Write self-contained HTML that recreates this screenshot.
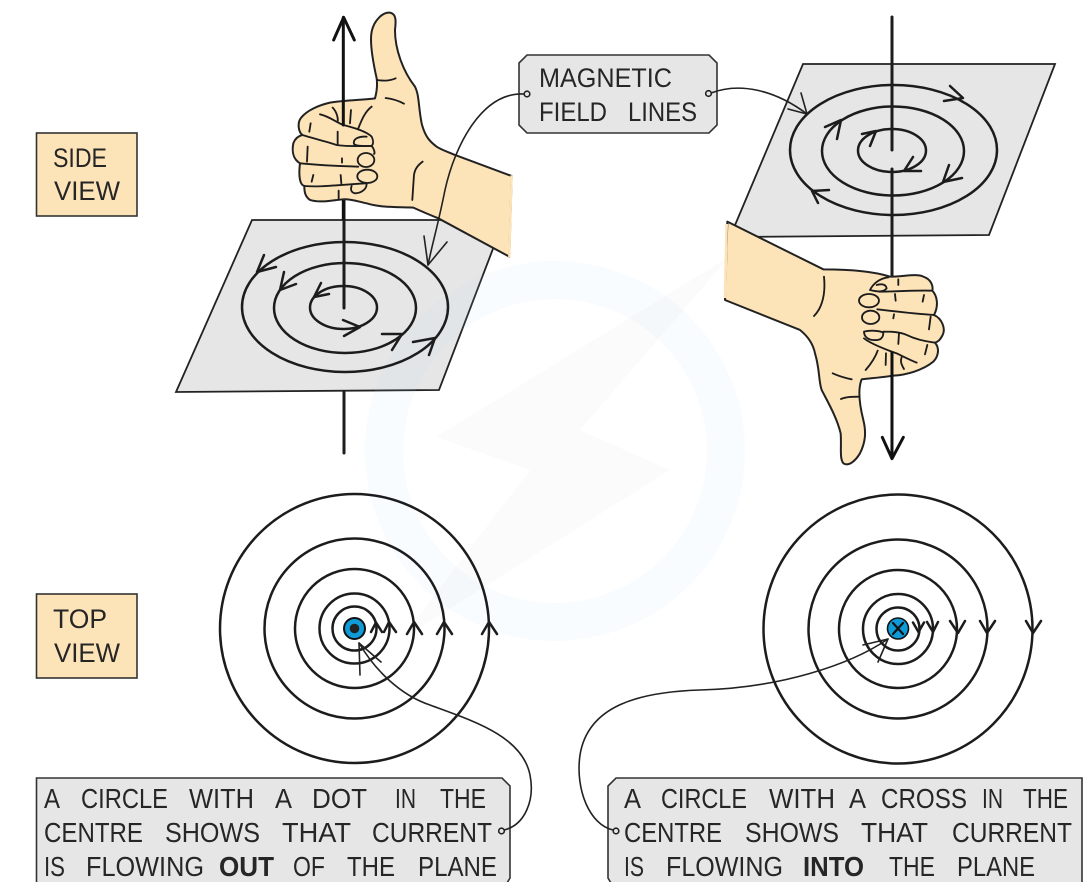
<!DOCTYPE html>
<html><head><meta charset="utf-8"><style>
html,body{margin:0;padding:0;background:#fff}
svg{display:block}
text{font-family:"Liberation Sans",sans-serif;font-size:28px;fill:#262626}
.s{font-size:27px}
.b{font-weight:bold}
.l{fill:none;stroke:#1c1c1c;stroke-width:2.5;stroke-linecap:round;stroke-linejoin:round}
.t{fill:none;stroke:#222;stroke-width:1.6;stroke-linecap:round;stroke-linejoin:round}
.h{fill:#fde3b8;stroke:#222;stroke-width:6;stroke-linejoin:round}
.f{fill:none;stroke:#1c1c1c;stroke-width:5.5;stroke-linecap:round;stroke-linejoin:round}
.box{stroke:#333;stroke-width:1.6}
</style></head><body>
<svg width="1090" height="882" viewBox="0 0 1090 882" xmlns="http://www.w3.org/2000/svg">
<!-- planes -->
<polygon points="252,220 504,220 439,390 176,392" fill="#e6e6e6" stroke="#222" stroke-width="1.8"/>
<polygon points="803,64 1055,64 989,235 730,237" fill="#e6e6e6" stroke="#222" stroke-width="1.8"/>
<!-- watermark -->
<circle cx="555" cy="451" r="171" fill="none" stroke="#b4e1f5" stroke-opacity=".09" stroke-width="38"/>
<polygon points="730,256 436,437 530,470 400,640 670,470 580,430" fill="#000" fill-opacity=".014"/>
<!-- left axis lower + field -->
<g class="l">
<line x1="344" y1="200" x2="344" y2="308" stroke-width="3"/>
<line x1="344" y1="392" x2="344" y2="453" stroke-width="3"/>
<ellipse cx="345" cy="307" rx="103" ry="65"/>
<ellipse cx="345" cy="308" rx="71" ry="45"/>
<ellipse cx="343.5" cy="307.5" rx="33.5" ry="21.5"/>
<polyline points="264,255 257,272 276,267"/>
<polyline points="413,342 435,338 429,355"/>
<polyline points="284,272 280,290 296,284"/>
<polyline points="382,334 402,334 392,350"/>
<polyline points="321,283 314,297 329,294"/>
<polyline points="343,320 360,327 344,336"/>
</g>
<!-- right field -->
<g class="l">
<ellipse cx="893.5" cy="150" rx="103.5" ry="65"/>
<ellipse cx="893" cy="151" rx="71" ry="44.5"/>
<ellipse cx="892" cy="150.5" rx="34" ry="21.5"/>
<polyline points="950,86 963,98 944,101"/>
<polyline points="825,127 841,120 837,139"/>
<polyline points="862,134 876,131 870,146"/>
<polyline points="913,157 904,171 921,171"/>
<polyline points="949,165 943,182 962,178"/>
<polyline points="829,190 812,191 818,203"/>
<line x1="892" y1="17" x2="892" y2="150" stroke-width="3"/>
<line x1="892" y1="169" x2="892" y2="277" stroke-width="3"/>
</g>
<!-- left hand -->
<g transform="translate(170,0) scale(.3333)">
<path class="h" d="M615,295 C622,270 622,250 620,235 C610,190 598,130 605,95 C612,60 640,35 660,38 C680,42 678,65 675,90 C675,150 700,215 735,260 C748,285 745,320 755,370 C765,410 780,425 800,440 C815,450 840,458 855,465 L1025,528 L1018,770 L805,655 C780,645 750,632 730,623 C690,620 640,625 590,610 C565,605 545,597 520,598 C490,600 450,610 420,600 C405,590 403,575 403,558 C390,555 385,530 390,490 C370,478 365,455 370,430 C375,415 385,408 397,405 C385,395 382,370 392,355 C410,330 450,315 480,308 C530,300 580,300 615,295 Z"/>
<path d="M1025,526 L1018,772" stroke="#fde3b8" stroke-width="7" fill="none"/>
<g class="f">
<path d="M397,405 C430,415 470,425 500,435 C530,440 570,438 605,438"/>
<path d="M450,343 C480,350 500,368 520,375 C560,385 590,395 605,410 C612,425 610,432 605,438 C590,438 560,440 552,432 C548,415 570,408 590,410"/>
<path d="M390,490 C440,495 500,498 565,500"/>
<path d="M403,558 C450,562 500,555 590,550"/>
<path d="M590,552 C590,570 570,580 555,580 C545,578 540,570 545,558"/>
<path d="M422,370 L418,395 M413,440 L411,485 M430,525 L425,545 M503,395 L503,435 M516,475 L516,488 M512,525 L514,550 M506,572 L506,598 M543,330 L540,370"/>
<path d="M488,323 C500,335 505,355 503,365 M605,320 C585,335 575,360 565,385"/>
<path d="M622,240 C640,243 660,243 677,235 M647,294 C665,296 685,302 702,311 M758,485 C745,495 735,505 732,525 L727,600"/>
<path d="M605,438 C612,445 616,460 612,462"/>
<ellipse cx="588" cy="480" rx="25" ry="21"/>
<ellipse cx="592" cy="529" rx="30" ry="20"/>
</g>
<!-- upper axis -->
<line x1="520" y1="52" x2="520" y2="375" stroke="#111" stroke-width="9" stroke-linecap="round"/>
<line x1="520" y1="600" x2="520" y2="660" stroke="#111" stroke-width="9"/>
<polyline points="491,120 521,52 553,120" fill="none" stroke="#111" stroke-width="9" stroke-linecap="round" stroke-linejoin="round"/>
</g>
<!-- right hand -->
<g transform="translate(720,220) scale(.3333)">
<path class="h" d="M22,5 L310,148 C360,148 450,150 510,170 C550,170 590,160 610,170 C635,178 640,200 637,212 C650,225 658,255 642,285 C665,295 678,325 668,345 C660,360 655,365 645,368 C660,385 655,410 640,425 C610,450 560,465 520,467 C490,472 450,475 425,478 C412,510 420,560 430,600 C440,640 435,670 420,700 C405,725 385,740 370,730 C358,715 365,680 362,640 C350,590 320,540 305,510 C295,480 300,450 285,400 C280,375 265,350 240,330 L15,240 Z"/>
<path d="M20,12 L15,234" stroke="#fde3b8" stroke-width="8" fill="none"/>
<g class="f">
<path d="M505,172 C480,175 460,190 450,210 C470,215 490,218 500,205 C498,195 490,190 470,195"/>
<path d="M478,215 C530,215 590,210 637,212"/>
<path d="M472,268 C530,275 590,282 642,285"/>
<path d="M490,335 C510,335 540,335 560,345 C590,360 620,365 645,368"/>
<path d="M432,335 C450,330 480,332 490,338 C490,355 480,362 460,360 C445,360 432,350 432,335"/>
<path d="M432,355 C450,370 500,390 530,400 C550,410 570,420 590,428"/>
<ellipse cx="447" cy="242" rx="30" ry="20"/>
<ellipse cx="452" cy="292" rx="26" ry="20"/>
<path d="M535,178 L535,195 M525,222 L527,242 M612,225 L608,245 M522,283 L520,295 M632,290 L627,328 M537,340 L535,372 M622,375 L615,403 M498,400 L497,435"/>
<path d="M473,392 C465,415 450,435 437,450 M545,412 C540,425 545,435 552,447"/>
<path d="M338,460 C360,470 380,475 395,478 M363,537 C380,530 400,530 418,530 M312,170 C315,200 312,230 305,250 C300,265 290,280 282,288"/>
</g>
<line x1="516" y1="395" x2="516" y2="715" stroke="#111" stroke-width="9"/>
<polyline points="487,652 516,716 550,652" fill="none" stroke="#111" stroke-width="9" stroke-linecap="round" stroke-linejoin="round"/>
</g>
<!-- label boxes -->
<rect class="box" x="36.5" y="133" width="100.5" height="83" fill="#fde3b8"/>
<rect class="box" x="36.5" y="594" width="100.5" height="84" fill="#fde3b8"/>
<polygon class="box" points="527,55 709,55 717,63 717,125 709,133 527,133 519,125 519,63" fill="#e6e6e6"/>
<polygon class="box" points="36.5,778 502,778 510,786 510,878 507,883 36.5,883" fill="#e6e6e6"/>
<polygon class="box" points="616,778 1082,778 1082,883 611,883 608,878 608,786" fill="#e6e6e6"/>
<text class="s" x="53" y="167" textLength="54" lengthAdjust="spacingAndGlyphs">SIDE</text>
<text class="s" x="54" y="200" textLength="66" lengthAdjust="spacingAndGlyphs">VIEW</text>
<text class="s" x="53" y="628" textLength="54" lengthAdjust="spacingAndGlyphs">TOP</text>
<text class="s" x="54" y="662" textLength="66" lengthAdjust="spacingAndGlyphs">VIEW</text>
<text class="s" x="539" y="87" textLength="133" lengthAdjust="spacingAndGlyphs">MAGNETIC</text>
<text class="s" x="539" y="121" textLength="68" lengthAdjust="spacingAndGlyphs">FIELD</text>
<text class="s" x="628" y="121" textLength="69" lengthAdjust="spacingAndGlyphs">LINES</text>
<!-- left caption -->
<text x="44" y="808" textLength="16" lengthAdjust="spacingAndGlyphs">A</text>
<text x="81" y="808" textLength="87" lengthAdjust="spacingAndGlyphs">CIRCLE</text>
<text x="189" y="808" textLength="65" lengthAdjust="spacingAndGlyphs">WITH</text>
<text x="275" y="808" textLength="17" lengthAdjust="spacingAndGlyphs">A</text>
<text x="312" y="808" textLength="55" lengthAdjust="spacingAndGlyphs">DOT</text>
<text x="395" y="808" textLength="21" lengthAdjust="spacingAndGlyphs">IN</text>
<text x="440" y="808" textLength="46" lengthAdjust="spacingAndGlyphs">THE</text>
<text x="44" y="842" textLength="99" lengthAdjust="spacingAndGlyphs">CENTRE</text>
<text x="165" y="842" textLength="95" lengthAdjust="spacingAndGlyphs">SHOWS</text>
<text x="282" y="842" textLength="69" lengthAdjust="spacingAndGlyphs">THAT</text>
<text x="372" y="842" textLength="120" lengthAdjust="spacingAndGlyphs">CURRENT</text>
<text x="44" y="876" textLength="21" lengthAdjust="spacingAndGlyphs">IS</text>
<text x="86" y="876" textLength="118" lengthAdjust="spacingAndGlyphs">FLOWING</text>
<text class="b" x="219" y="876" textLength="55" lengthAdjust="spacingAndGlyphs">OUT</text>
<text x="293" y="876" textLength="32" lengthAdjust="spacingAndGlyphs">OF</text>
<text x="347" y="876" textLength="48" lengthAdjust="spacingAndGlyphs">THE</text>
<text x="418" y="876" textLength="79" lengthAdjust="spacingAndGlyphs">PLANE</text>
<!-- right caption -->
<text x="624" y="808" textLength="17" lengthAdjust="spacingAndGlyphs">A</text>
<text x="661" y="808" textLength="86" lengthAdjust="spacingAndGlyphs">CIRCLE</text>
<text x="769" y="808" textLength="66" lengthAdjust="spacingAndGlyphs">WITH</text>
<text x="849" y="808" textLength="17" lengthAdjust="spacingAndGlyphs">A</text>
<text x="881" y="808" textLength="86" lengthAdjust="spacingAndGlyphs">CROSS</text>
<text x="982" y="808" textLength="21" lengthAdjust="spacingAndGlyphs">IN</text>
<text x="1023" y="808" textLength="45" lengthAdjust="spacingAndGlyphs">THE</text>
<text x="624" y="842" textLength="98" lengthAdjust="spacingAndGlyphs">CENTRE</text>
<text x="745" y="842" textLength="94" lengthAdjust="spacingAndGlyphs">SHOWS</text>
<text x="861" y="842" textLength="67" lengthAdjust="spacingAndGlyphs">THAT</text>
<text x="952" y="842" textLength="120" lengthAdjust="spacingAndGlyphs">CURRENT</text>
<text x="624" y="876" textLength="20" lengthAdjust="spacingAndGlyphs">IS</text>
<text x="666" y="876" textLength="117" lengthAdjust="spacingAndGlyphs">FLOWING</text>
<text class="b" x="803" y="876" textLength="61" lengthAdjust="spacingAndGlyphs">INTO</text>
<text x="889" y="876" textLength="46" lengthAdjust="spacingAndGlyphs">THE</text>
<text x="957" y="876" textLength="78" lengthAdjust="spacingAndGlyphs">PLANE</text>
<!-- top view left -->
<g class="l">
<circle cx="354.5" cy="628.5" r="134.5"/>
<circle cx="354.5" cy="628.5" r="90"/>
<circle cx="354.5" cy="628.5" r="59.5"/>
<circle cx="354.5" cy="628.5" r="35"/>
<circle cx="354.5" cy="628.5" r="22"/>
<polyline points="371,632 376,622.5 382,632"/>
<polyline points="384,632 389,622 396,632"/>
<polyline points="407,634 414,622 422,634"/>
<polyline points="437,634 444,622 452,634"/>
<polyline points="482,634 489,622 497,634"/>
</g>
<circle cx="354.5" cy="628.5" r="10.5" fill="#0e9bd8" stroke="#111" stroke-width="2"/>
<circle cx="354.5" cy="628.5" r="4.8" fill="#222"/>
<!-- top view right -->
<g class="l">
<circle cx="898" cy="629" r="134.5"/>
<circle cx="898" cy="629" r="89.5"/>
<circle cx="898" cy="629" r="59"/>
<circle cx="898" cy="629" r="35"/>
<circle cx="898" cy="629" r="21.5"/>
<polyline points="913,622.5 918.5,632 924,622.5"/>
<polyline points="927,622 933,632 938,622"/>
<polyline points="950,621 958,633 965,621"/>
<polyline points="980,621 987,633 995,621"/>
<polyline points="1026,621 1033,633 1041,621"/>
</g>
<circle cx="898" cy="628.5" r="10.5" fill="#0e9bd8" stroke="#111" stroke-width="1.6"/>
<path d="M893,623 L903,634 M903,623 L893,634" stroke="#111" stroke-width="2.2" stroke-linecap="round"/>
<!-- callouts -->
<g class="t">
<path d="M524,94 C482,92 455,145 445,190 C438,225 432,245 428,265"/>
<polyline points="424,236 428,265 447,242"/>
<circle cx="527" cy="94" r="2.8" fill="#e6e6e6"/>
<path d="M711,93 C740,82 775,90 807,114"/>
<polyline points="801,93 807,114 788,109"/>
<circle cx="708.5" cy="93.5" r="2.8" fill="#e6e6e6"/>
<path d="M504,830 C525,825 535,800 530,775 C522,735 470,720 430,705 C400,695 375,670 359,643"/>
<polyline points="360,675 359,643 381,662"/>
<circle cx="501.5" cy="831" r="2.8" fill="#e6e6e6"/>
<path d="M613,830 C590,825 575,790 580,755 C588,705 640,692 700,690 C780,688 850,665 888,639"/>
<polyline points="863,645 888,639 878,662"/>
<circle cx="616" cy="831" r="2.8" fill="#e6e6e6"/>
</g>
</svg>
</body></html>
